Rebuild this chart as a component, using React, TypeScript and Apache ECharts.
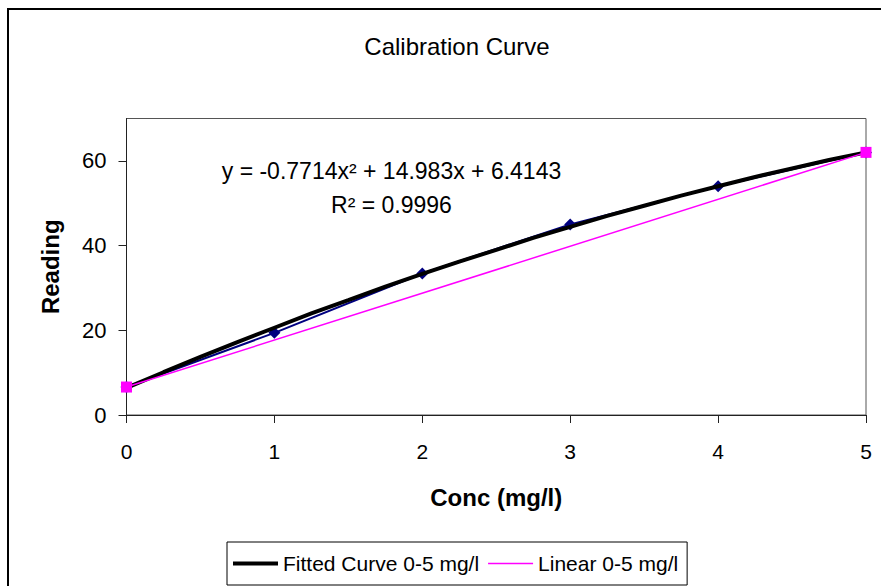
import React, { useEffect, useRef } from "react";
import * as echarts from "echarts";

const measuredConc = [0, 1, 2, 3, 4, 5];
const measuredReading = [6.6, 19.4, 33.4, 45.0, 54.0, 62.0];

const fittedConc = [0, 0.25, 0.5, 0.75, 1, 1.25, 1.5, 1.75, 2, 2.25, 2.5, 2.75, 3, 3.25, 3.5, 3.75, 4, 4.25, 4.5, 4.75, 5];
const fittedReading = [6.4, 10.1, 13.7, 17.2, 20.6, 24.0, 27.1, 30.3, 33.3, 36.2, 39.0, 41.8, 44.4, 47.0, 49.4, 51.8, 54.0, 56.2, 58.2, 60.2, 62.0];

const linearConc = [0, 5];
const linearReading = [6.6, 62.0];

const yTicks = [0, 20, 40, 60];
const titleText = "Calibration Curve";
const equationText = "y = -0.7714x² + 14.983x + 6.4143";
const r2Text = "R² = 0.9996";
const fittedName = "Fitted Curve 0-5 mg/l";
const linearName = "Linear 0-5 mg/l";

const FONT = "'Liberation Sans', Arial, sans-serif";

export default function App() {
  const ref = useRef<HTMLDivElement>(null);
  useEffect(() => {
    if (!ref.current) return;
    const chart = echarts.init(ref.current, undefined, { renderer: "svg" });
    const zip = (xs: number[], ys: number[]) => xs.map((x, i) => [x, ys[i]]);
    chart.setOption({
      animation: false,
      backgroundColor: "#fff",
      textStyle: { fontFamily: FONT },
      title: {
        text: titleText,
        left: 452,
        textAlign: "center",
        top: 29,
        textStyle: { fontFamily: FONT, fontSize: 24, fontWeight: "normal", color: "#000" },
      },
      grid: {
        left: 126.5,
        top: 118.5,
        right: 15,
        bottom: 171,
        show: true,
        borderColor: "#555",
        borderWidth: 1,
        backgroundColor: "transparent",
      },
      xAxis: {
        type: "value",
        min: 0,
        max: 5,
        interval: 1,
        name: "Conc (mg/l)",
        nameLocation: "middle",
        nameGap: 70,
        nameTextStyle: { fontFamily: FONT, fontSize: 24, fontWeight: "bold", color: "#000" },
        axisLine: { show: true, lineStyle: { color: "#222", width: 1 } },
        axisTick: { show: true, length: 8, inside: false, lineStyle: { color: "#222" } },
        axisLabel: { margin: 26, fontFamily: FONT, fontSize: 21, color: "#000" },
        splitLine: { show: false },
      },
      yAxis: {
        type: "value",
        min: 0,
        max: 70,
        interval: 20,
        name: "Reading",
        nameLocation: "middle",
        nameGap: 64,
        nameTextStyle: { fontFamily: FONT, fontSize: 24, fontWeight: "bold", color: "#000" },
        axisLine: { show: true, lineStyle: { color: "#222", width: 1 } },
        axisTick: { show: true, length: 8, inside: false, customValues: yTicks, lineStyle: { color: "#222" } },
        axisLabel: { margin: 20, fontFamily: FONT, fontSize: 22, color: "#000", customValues: yTicks },
        splitLine: { show: false },
      },
      legend: {
        data: [
          { name: fittedName, icon: "path://M0,0H45V4H0Z" },
          { name: linearName, icon: "path://M0,0H45V1.5H0Z" },
        ],
        left: 227,
        top: 542,
        orient: "horizontal",
        padding: [11, 9, 11, 6],
        itemWidth: 45,
        itemHeight: 14,
        itemGap: 9,
        borderColor: "#000",
        borderWidth: 1,
        backgroundColor: "#fff",
        textStyle: { fontFamily: FONT, fontSize: 21, color: "#000" },
      },
      series: [
        {
          name: "Series1",
          type: "line",
          data: zip(measuredConc, measuredReading),
          symbol: "diamond",
          symbolSize: 12,
          itemStyle: { color: "#000080" },
          lineStyle: { color: "#000080", width: 2 },
          z: 2,
        },
        {
          name: fittedName,
          type: "line",
          data: zip(fittedConc, fittedReading),
          showSymbol: false,
          symbol: "none",
          lineStyle: { color: "#000", width: 4 },
          itemStyle: { color: "#000" },
          z: 3,
        },
        {
          name: linearName,
          type: "line",
          data: zip(linearConc, linearReading),
          symbol: "rect",
          symbolSize: 11,
          itemStyle: { color: "#FF00FF" },
          lineStyle: { color: "#FF00FF", width: 1.5 },
          z: 4,
        },
      ],
      graphic: [
        {
          type: "rect",
          shape: { x: 8, y: 9, width: 1000, height: 1000 },
          style: { fill: "none", stroke: "#000", lineWidth: 2 },
          silent: true,
          z: 100,
        },
        {
          type: "text",
          x: 391.5,
          y: 171,
          style: {
            text: equationText,
            fontFamily: FONT,
            fontSize: 23,
            fill: "#000",
            textAlign: "center",
            textVerticalAlign: "middle",
          },
          z: 100,
        },
        {
          type: "text",
          x: 391.5,
          y: 205,
          style: {
            text: r2Text,
            fontFamily: FONT,
            fontSize: 23,
            fill: "#000",
            textAlign: "center",
            textVerticalAlign: "middle",
          },
          z: 100,
        },
      ],
    });
    return () => chart.dispose();
  }, []);
  return (
    <div
      ref={ref}
      style={{ position: "fixed", left: 0, top: 0, width: 881, height: 586, background: "#fff" }}
    />
  );
}
